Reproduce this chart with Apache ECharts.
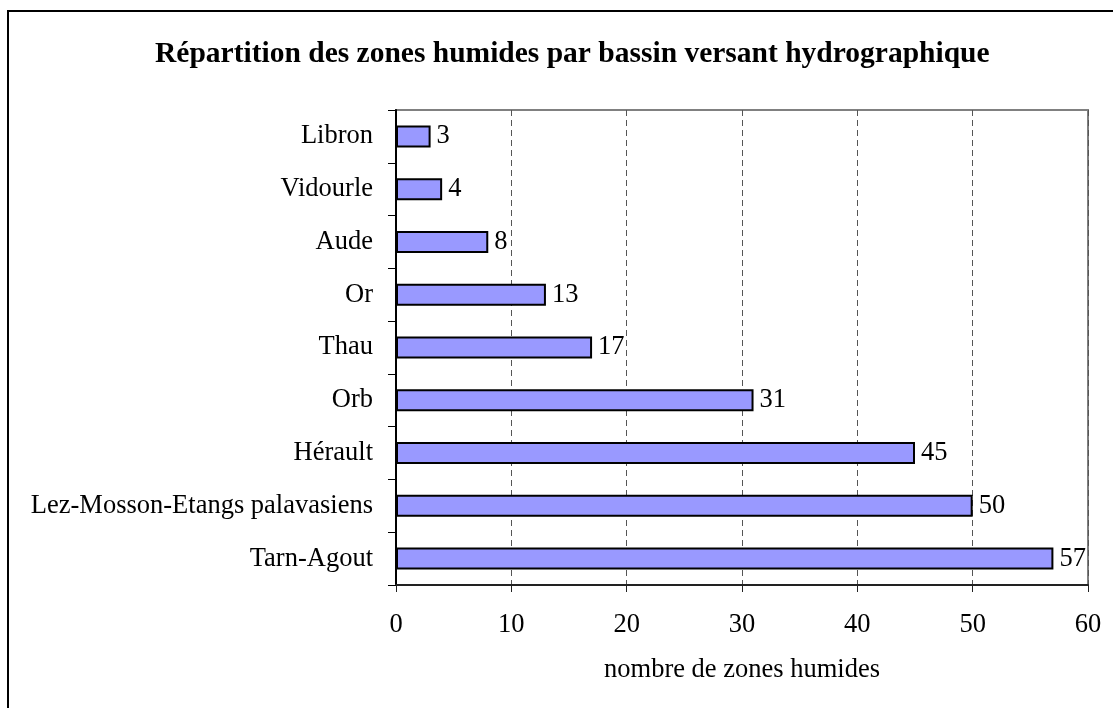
<!doctype html>
<html>
<head>
<meta charset="utf-8">
<title>Zones humides</title>
<script src="https://cdn.jsdelivr.net/npm/echarts@6/dist/echarts.min.js"></script>
<style>
  html, body { margin: 0; padding: 0; background: #fff; }
  #chart { width: 1113px; height: 708px; }
</style>
</head>
<body>
<div id="chart"></div>
<script>
var bassins = ['Libron', 'Vidourle', 'Aude', 'Or', 'Thau', 'Orb', 'Hérault', 'Lez-Mosson-Etangs palavasiens', 'Tarn-Agout'];
var nbZones = [3, 4, 8, 13, 17, 31, 45, 50, 57];
var xTicks = [0, 60, 10];  // min, max, interval

var chart = echarts.init(document.getElementById('chart'));
var serif = '"Liberation Serif", "Times New Roman", serif';

chart.setOption({
  animation: false,
  textStyle: { fontFamily: serif },
  title: {
    text: 'Répartition des zones humides par bassin versant hydrographique',
    left: 150,
    top: 34,
    textStyle: { fontFamily: serif, fontSize: 29.5, fontWeight: 'bold', color: '#000' }
  },
  graphic: [{
    type: 'rect',
    shape: { x: 8, y: 11, width: 1300, height: 900 },
    style: { fill: 'none', stroke: '#000', lineWidth: 2 },
    silent: true
  }],
  grid: {
    left: 396, right: 25, top: 110, bottom: 123,
    show: true, borderColor: '#808080', borderWidth: 2, backgroundColor: 'transparent'
  },
  xAxis: {
    type: 'value',
    min: xTicks[0], max: xTicks[1], interval: xTicks[2],
    name: 'nombre de zones humides',
    nameLocation: 'middle',
    nameGap: 72,
    nameTextStyle: { fontFamily: serif, fontSize: 26.5, color: '#000' },
    axisLine: { show: true, lineStyle: { color: '#222', width: 2 } },
    axisTick: { show: true, length: 7, lineStyle: { color: '#222', width: 1 } },
    axisLabel: { margin: 27, fontFamily: serif, fontSize: 26.5, color: '#000' },
    splitLine: { show: true, lineStyle: { color: '#555', type: [6, 4], width: 1 } }
  },
  yAxis: {
    type: 'category',
    inverse: true,
    data: bassins,
    axisLine: { show: true, lineStyle: { color: '#000', width: 2 } },
    axisTick: { show: true, length: 8, lineStyle: { color: '#000', width: 1 } },
    axisLabel: { margin: 23, fontFamily: serif, fontSize: 26.5, color: '#000' },
    splitLine: { show: false }
  },
  series: [{
    type: 'bar',
    data: nbZones,
    barWidth: 22,
    itemStyle: { color: '#9999ff', borderColor: '#000', borderWidth: 2 },
    label: { show: true, position: 'right', distance: 6, fontFamily: serif, fontSize: 26.5, color: '#000' }
  }]
});
</script>
</body>
</html>
